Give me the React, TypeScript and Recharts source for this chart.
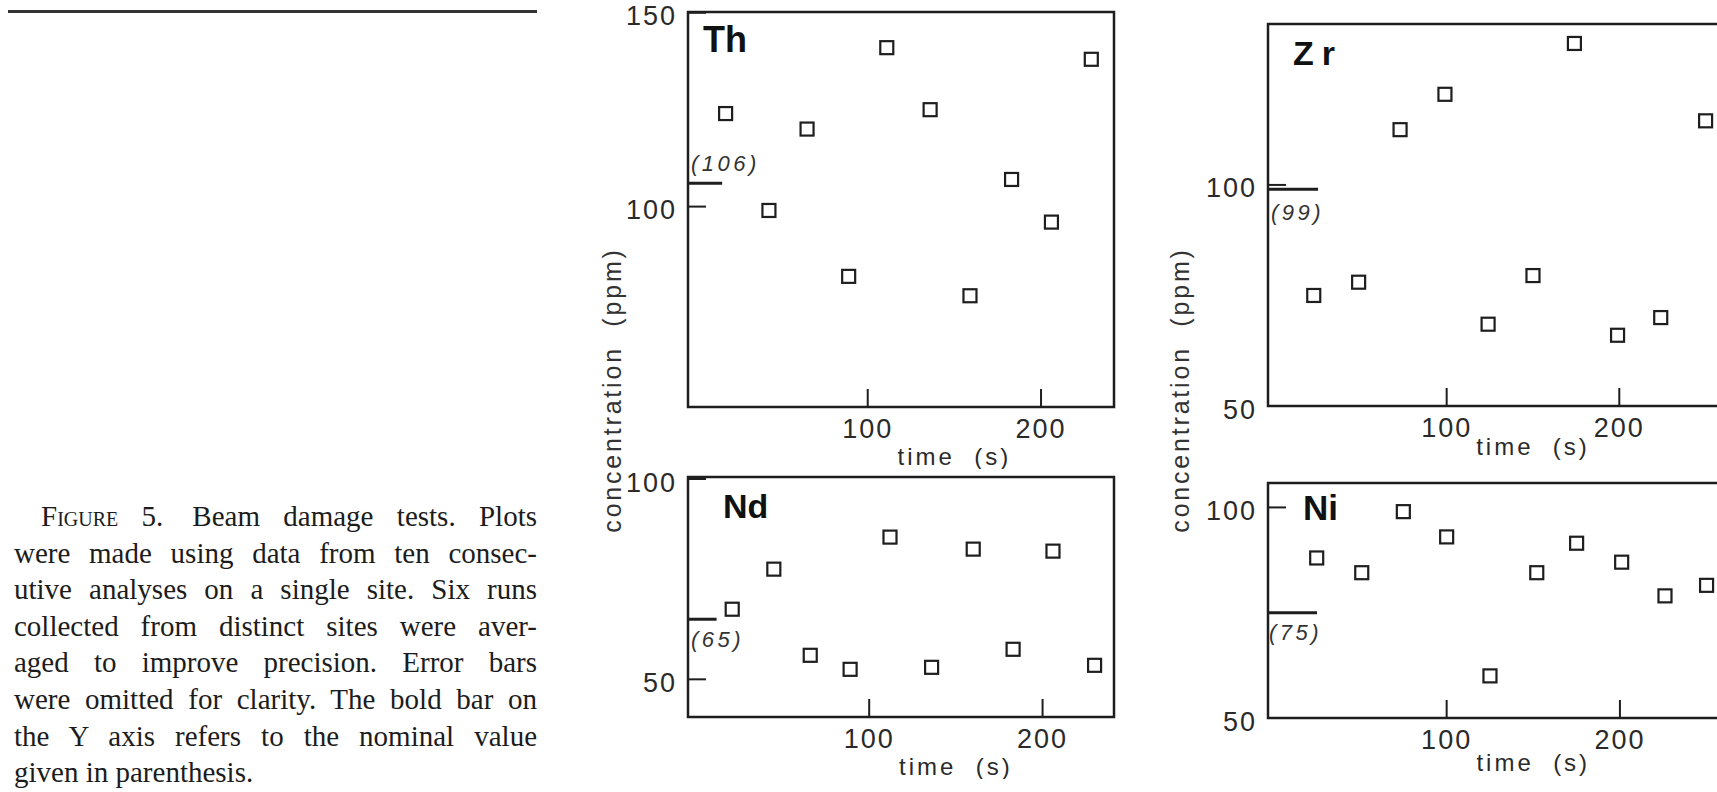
import React from 'react';
import { ScatterChart, Scatter, XAxis, YAxis, ReferenceArea, ReferenceLine } from 'recharts';

// values: time (s) vs concentration (ppm)
const thTime = [18, 43, 65, 89, 111, 136, 159, 183, 206, 229];
const thConc = [124, 99, 120, 82, 141, 125, 77, 107, 96, 138];
const ndTime = [21, 45, 66, 89, 112, 136, 160, 183, 206, 230];
const ndConc = [67.5, 77.5, 56, 52.5, 85.5, 53, 82.5, 57.5, 82, 53.5];
const zrTime = [23, 49, 73, 99, 124, 150, 174, 199, 224, 250];
const zrConc = [75, 78, 112.5, 120.5, 68.5, 79.5, 132, 66, 70, 114.5];
const niTime = [25, 51, 75, 100, 125, 152, 175, 201, 226, 250];
const niConc = [88, 84.5, 99, 93, 60, 84.5, 91.5, 87, 79, 81.5];

// nominal value shown as the bold bar on the Y axis
const thNominal = 106;
const ndNominal = 65;
const zrNominal = 99;
const niNominal = 75;

const timeTicks = [100, 200];
const thConcTicks = [100, 150];
const concTicks = [50, 100];
const timeLabelAt = 150;

const INK = '#1e1e1e';
const SANS = '"Liberation Sans", Arial, Helvetica, sans-serif';

const Square = ({ cx, cy }: any) => (
    <rect x={cx - 6.5} y={cy - 6.5} width={13} height={13} fill="#fff" stroke={INK} strokeWidth={2.2} />
);

const YTick = ({ x, y, payload }: any) => (
    <g>
        <line x1={x} y1={y} x2={x + 18} y2={y} stroke={INK} strokeWidth={2} />
        <text
            x={x - 11}
            y={y + 3.5}
            textAnchor="end"
            dominantBaseline="central"
            fontFamily={SANS}
            fontSize={27}
            fill="#2a2a2a"
            style={{ letterSpacing: 2 }}
        >
            {payload.value}
        </text>
    </g>
);

const XTick = ({ x, y, payload }: any) => (
    <g>
        <line x1={x} y1={y} x2={x} y2={y - 18} stroke={INK} strokeWidth={2} />
        <text
            x={x}
            y={y + 22}
            textAnchor="middle"
            dominantBaseline="central"
            fontFamily={SANS}
            fontSize={27}
            fill="#2a2a2a"
            style={{ letterSpacing: 2 }}
        >
            {payload.value}
        </text>
    </g>
);

interface PanelProps {
    times: number[];
    values: number[];
    name: string;
    nominal: number;
    barEnd: number;
    yTicks: number[];
    xDomain: [number, number];
    yDomain: [number, number];
    left: number;
    top: number;
    plotW: number;
    plotH: number;
    nameDx: number;
    nameDy: number;
    nameSize: number;
    nameSpacing?: number;
    nomDx: number;
    nomDy: number;
    timeDy: number;
}

const Panel: React.FC<PanelProps> = (p) => {
    const data = p.times.map((t, i) => ({ t, c: p.values[i] }));
    const padL = 90;
    const padT = 14;

    const nameLabel = (lp: any) => {
        const vb = lp.viewBox || { x: padL, y: padT };
        return (
            <text
                x={vb.x + p.nameDx}
                y={vb.y + p.nameDy}
                fontFamily={SANS}
                fontWeight="bold"
                fontSize={p.nameSize}
                fill="#111"
                style={{ letterSpacing: p.nameSpacing || 0 }}
            >
                {p.name}
            </text>
        );
    };

    const nominalLabel = (lp: any) => {
        const vb = lp.viewBox || { x: padL, y: 0 };
        return (
            <text
                x={vb.x + p.nomDx}
                y={vb.y + p.nomDy}
                dominantBaseline="central"
                fontFamily={SANS}
                fontStyle="italic"
                fontSize={22}
                fill="#333"
                style={{ letterSpacing: 3.5 }}
            >
                ({p.nominal})
            </text>
        );
    };

    const timeLabel = (lp: any) => {
        const vb = lp.viewBox || { x: padL, y: padT + p.plotH, width: p.plotW };
        const x = vb.x + ((timeLabelAt - p.xDomain[0]) / (p.xDomain[1] - p.xDomain[0])) * vb.width;
        return (
            <text
                x={x}
                y={vb.y + p.timeDy}
                textAnchor="middle"
                dominantBaseline="central"
                fontFamily={SANS}
                fontSize={24}
                fill="#2a2a2a"
                style={{ letterSpacing: 3, whiteSpace: 'pre' }}
            >
                {'time  (s)'}
            </text>
        );
    };

    return (
        <div style={{ position: 'absolute', left: p.left - padL, top: p.top - padT }}>
            <ScatterChart
                width={p.plotW + padL + 20}
                height={p.plotH + padT + 62}
                margin={{ top: padT, right: 20, bottom: 0, left: 0 }}
            >
                <XAxis
                    type="number"
                    dataKey="t"
                    domain={p.xDomain}
                    ticks={timeTicks}
                    interval={0}
                    allowDataOverflow
                    height={62}
                    axisLine={false}
                    tickLine={false}
                    tickSize={0}
                    tickMargin={0}
                    tick={(tp: any) => <XTick {...tp} />}
                    label={timeLabel}
                />
                <YAxis
                    type="number"
                    dataKey="c"
                    domain={p.yDomain}
                    ticks={p.yTicks}
                    interval={0}
                    allowDataOverflow
                    width={padL}
                    axisLine={false}
                    tickLine={false}
                    tickSize={0}
                    tickMargin={0}
                    tick={(tp: any) => <YTick {...tp} />}
                />
                <ReferenceArea
                    x1={p.xDomain[0]}
                    x2={p.xDomain[1]}
                    y1={p.yDomain[0]}
                    y2={p.yDomain[1]}
                    fill="none"
                    fillOpacity={0}
                    stroke={INK}
                    strokeWidth={2.5}
                    ifOverflow="visible"
                    label={nameLabel}
                />
                <ReferenceLine
                    segment={[
                        { x: p.xDomain[0], y: p.nominal },
                        { x: p.barEnd, y: p.nominal },
                    ]}
                    stroke={INK}
                    strokeWidth={3}
                    ifOverflow="visible"
                    label={nominalLabel}
                />
                <Scatter data={data} shape={Square} isAnimationActive={false} />
            </ScatterChart>
        </div>
    );
};

const AxisTitle = ({ x, y }: { x: number; y: number }) => (
    <svg style={{ position: 'absolute', left: x - 40, top: y - 200 }} width={60} height={400}>
        <text
            x={40}
            y={200}
            transform="rotate(-90 40 200)"
            textAnchor="middle"
            fontFamily={SANS}
            fontSize={25}
            fill="#333"
            style={{ letterSpacing: 2.8, whiteSpace: 'pre' }}
        >
            {'concentration  (ppm)'}
        </text>
    </svg>
);

const captionLines = [
    'were made using data from ten consec-',
    'utive analyses on a single site. Six runs',
    'collected from distinct sites were aver-',
    'aged to improve precision. Error bars',
    'were omitted for clarity. The bold bar on',
    'the Y axis refers to the nominal value',
];

const App: React.FC = () => {
    const lineStyle: React.CSSProperties = {
        textAlign: 'justify',
        textAlignLast: 'justify',
        whiteSpace: 'nowrap',
    };
    return (
        <div
            style={{
                position: 'fixed',
                left: 0,
                top: 0,
                width: 1717,
                height: 792,
                overflow: 'hidden',
                background: '#fff',
            }}
        >
            <div style={{ position: 'absolute', left: 8, top: 10, width: 529, height: 2.5, background: '#333' }} />

            <div
                style={{
                    position: 'absolute',
                    left: 14,
                    top: 498,
                    width: 523,
                    fontFamily: '"Liberation Serif", "Times New Roman", serif',
                    fontSize: 29,
                    lineHeight: '36.6px',
                    color: '#1c1c1c',
                }}
            >
                <div style={{ ...lineStyle, paddingLeft: 27 }}>
                    <span style={{ fontVariant: 'small-caps' }}>Figure 5.</span>
                    {'\u2003Beam damage tests. Plots'}
                </div>
                {captionLines.map((line) => (
                    <div key={line} style={lineStyle}>
                        {line}
                    </div>
                ))}
                <div>given in parenthesis.</div>
            </div>

            <AxisTitle x={621} y={390} />
            <AxisTitle x={1189} y={390} />

            <Panel
                times={thTime}
                values={thConc}
                name="Th"
                nominal={thNominal}
                barEnd={16}
                yTicks={thConcTicks}
                xDomain={[-3.7, 242.1]}
                yDomain={[48.3, 150.2]}
                left={688}
                top={12}
                plotW={426}
                plotH={395}
                nameDx={15}
                nameDy={40}
                nameSize={36}
                nomDx={3}
                nomDy={-20}
                timeDy={49}
            />
            <Panel
                times={ndTime}
                values={ndConc}
                name="Nd"
                nominal={ndNominal}
                barEnd={12}
                yTicks={concTicks}
                xDomain={[-4.5, 241.2]}
                yDomain={[40.6, 100.5]}
                left={688}
                top={477}
                plotW={426}
                plotH={240}
                nameDx={35}
                nameDy={41}
                nameSize={34}
                nomDx={3}
                nomDy={20}
                timeDy={49}
            />
            <Panel
                times={zrTime}
                values={zrConc}
                name="Zr"
                nominal={zrNominal}
                barEnd={25.5}
                yTicks={concTicks}
                xDomain={[-3.5, 259.5]}
                yDomain={[50, 136.4]}
                left={1268}
                top={24}
                plotW={454}
                plotH={382}
                nameDx={25}
                nameDy={41}
                nameSize={34}
                nameSpacing={8}
                nomDx={3}
                nomDy={23}
                timeDy={40}
            />
            <Panel
                times={niTime}
                values={niConc}
                name="Ni"
                nominal={niNominal}
                barEnd={25.2}
                yTicks={concTicks}
                xDomain={[-3.1, 258.9]}
                yDomain={[50, 105.8]}
                left={1268}
                top={483}
                plotW={454}
                plotH={235}
                nameDx={35}
                nameDy={37}
                nameSize={35}
                nomDx={1}
                nomDy={20}
                timeDy={44}
            />
        </div>
    );
};

export default App;
